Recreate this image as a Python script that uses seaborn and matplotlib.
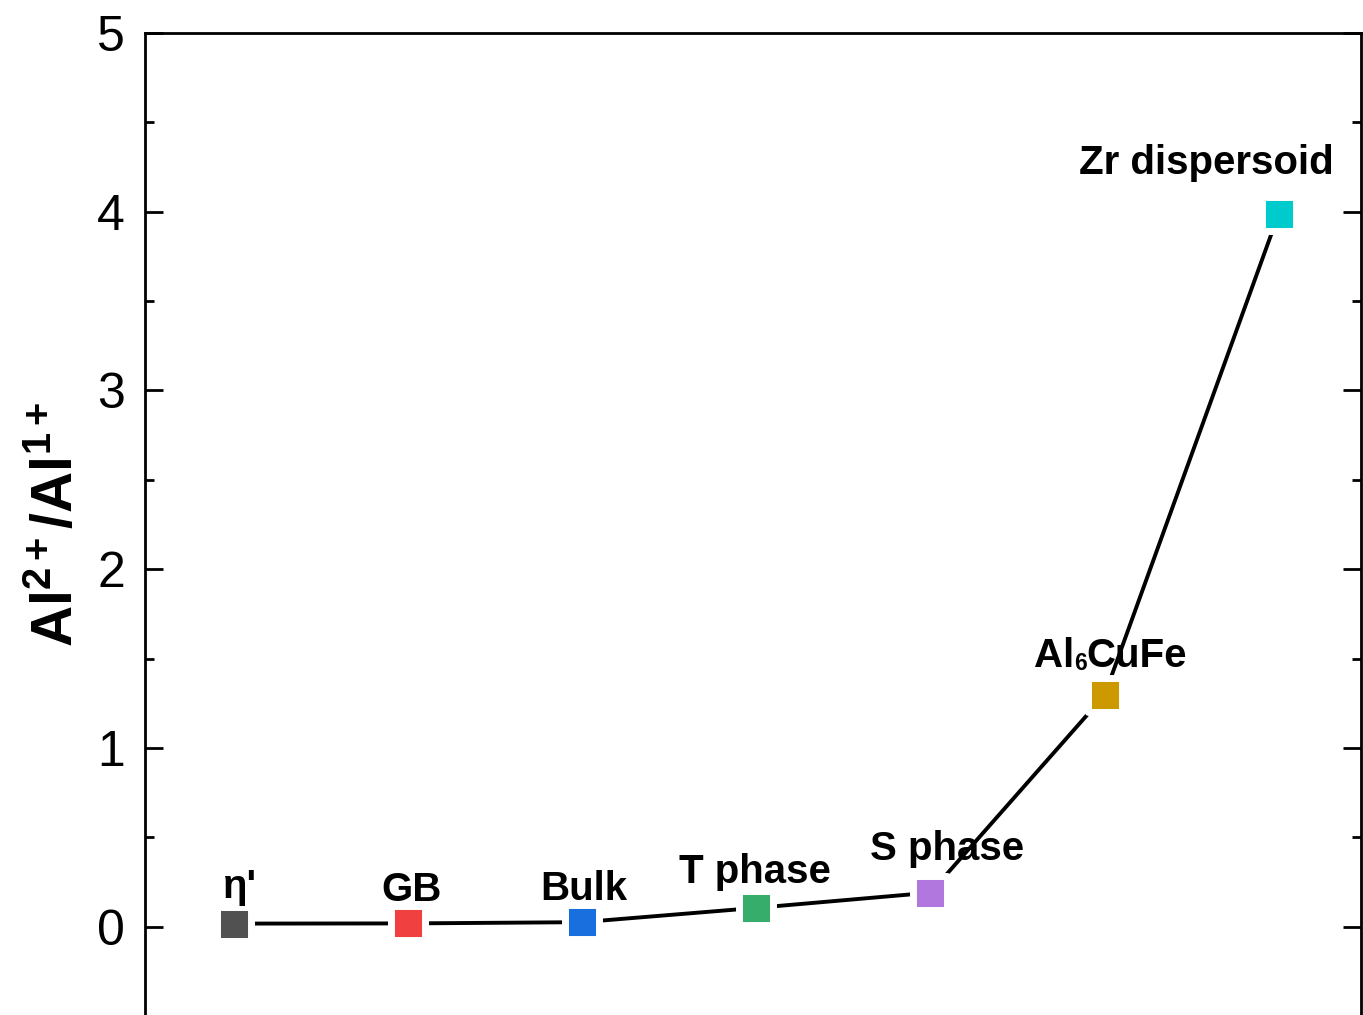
import matplotlib
matplotlib.use("Agg")
import matplotlib.pyplot as plt
import seaborn as sns
import pandas as pd
from matplotlib.ticker import MultipleLocator

# ---- data ----
phases = ["η'", "GB", "Bulk", "T phase", "S phase", "Al6CuFe", "Zr dispersoid"]
position = [1, 2, 3, 4, 5, 6, 7]
ratio = [0.017, 0.018, 0.025, 0.105, 0.19, 1.295, 3.99]
colors = ["#515151", "#F14040", "#1A6FDF", "#37AD6B", "#B177DE", "#CC9900", "#00CBCC"]
yticks = [0, 1, 2, 3, 4, 5]
ylabel = r"$\mathbf{Al^{2+}/Al^{1+}}$"

# label offsets from each marker (points)
label_offsets = [(5, 18.7), (2.5, 16.5), (1, 16.2), (-0.7, 17.6), (11.9, 23.4), (6.1, 20.5), (-51.8, 28.1)]

sns.set_theme(style="ticks")
plt.rcParams['font.family'] = ['Liberation Sans', 'DejaVu Sans']
plt.rcParams['mathtext.fontset'] = 'custom'
plt.rcParams['mathtext.rm'] = 'Liberation Sans:bold'
plt.rcParams['mathtext.bf'] = 'Liberation Sans:bold'
plt.rcParams['mathtext.it'] = 'Liberation Sans:bold'
plt.rcParams['mathtext.default'] = 'bf'

df = pd.DataFrame({"phase": phases, "x": position, "ratio": ratio})

W, H = 1363, 1015
fig = plt.figure(figsize=(W / 100, H / 100), dpi=100)
ax = fig.add_axes([144.5 / W, -1.0 / H, (1361 - 144.5) / W, (1016 - 33) / H])

sns.lineplot(data=df, x="x", y="ratio", color="black", lw=2.8, ax=ax, zorder=2, sort=False)
sns.scatterplot(data=df, x="x", y="ratio", hue="phase", palette=dict(zip(phases, colors)),
                marker="s", s=600, edgecolor="white", linewidth=5, legend=False, zorder=3, ax=ax)

ax.set_xlim(0.489, 7.472)
ax.set_ylim(-0.5, 5)
ax.set_xticks([])
ax.set_xlabel("")
ax.set_yticks(yticks)
ax.set_yticklabels([str(t) for t in yticks])
ax.yaxis.set_minor_locator(MultipleLocator(0.5))
ax.tick_params(axis='y', which='major', direction='in', length=13, width=2, labelsize=36,
               pad=14, left=True, right=True, color='black', labelcolor='black')
ax.tick_params(axis='y', which='minor', direction='in', length=6.5, width=2,
               left=True, right=True, color='black')
for sp in ax.spines.values():
    sp.set_visible(True)
    sp.set_linewidth(2)
    sp.set_color('black')

ax.set_ylabel(ylabel, fontsize=41, labelpad=9, color='black')

lab_kw = dict(fontsize=29, fontweight='bold', color='black')
for name, xv, yv, (dx, dy) in zip(phases, position, ratio, label_offsets):
    if name == "Al6CuFe":
        t1 = ax.annotate("Al", xy=(xv, yv), xytext=(dx - 57, dy), textcoords="offset points",
                         ha='left', va='baseline', **lab_kw)
        t2 = ax.annotate("6", xy=(1, 0), xycoords=t1, ha='left', va='bottom',
                         fontsize=16.5, fontweight='bold', color='black')
        ax.annotate("CuFe", xy=(1, 0), xycoords=(t2, t1), ha='left', va='bottom', **lab_kw)
    else:
        ax.annotate(name, xy=(xv, yv), xytext=(dx, dy), textcoords="offset points",
                    ha='center', va='baseline', **lab_kw)

fig.savefig("out.png", dpi=100)
